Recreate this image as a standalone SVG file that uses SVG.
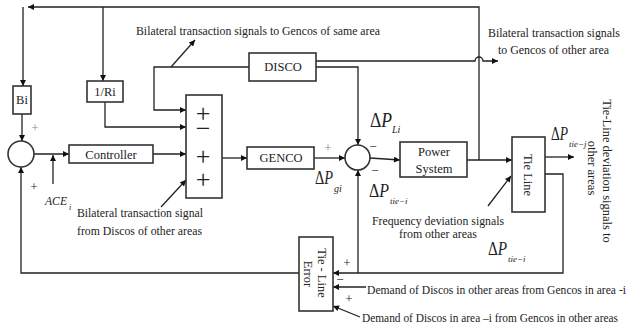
<svg xmlns="http://www.w3.org/2000/svg" width="633" height="331" viewBox="0 0 633 331" font-family="'Liberation Serif', 'Times New Roman', 'DejaVu Serif', serif">
<defs>
<style>
.box{fill:#fff;stroke:#333;stroke-width:1.6}
.ln{fill:none;stroke:#222;stroke-width:1.3}
.t{font-family:'Liberation Serif','Times New Roman','DejaVu Serif',serif;font-size:12.5px;fill:#222}
.it{font-family:'Liberation Serif','Times New Roman','DejaVu Serif',serif;font-style:italic;fill:#222}
.sg{font-family:'Liberation Serif','Times New Roman','DejaVu Serif',serif;font-size:26px;fill:#222;text-anchor:middle}
.sm{font-family:'Liberation Serif','Times New Roman','DejaVu Serif',serif;font-size:13px;fill:#222;text-anchor:middle}
.lt{fill:#7a8ca0}
.mid{text-anchor:middle}
</style>
<marker id="ah" viewBox="0 0 10 10" refX="10" refY="5" markerWidth="8" markerHeight="6" orient="auto" markerUnits="userSpaceOnUse"><path d="M0,0 L10,5 L0,10 z" fill="#111"/></marker>
</defs>
<rect width="633" height="331" fill="#fff"/>

<g id="connectors">
<path class="ln" d="M479 160 V7 H28" marker-end="url(#ah)"/>
<path class="ln" d="M23 7 V86" marker-end="url(#ah)"/>
<path class="ln" d="M103 7 V81" marker-end="url(#ah)"/>
<path class="ln" d="M22 114 V141" marker-end="url(#ah)"/>
<path class="ln" d="M105 102 V127 H186" marker-end="url(#ah)"/>
<path class="ln" d="M249 67 H154 V110 H186" marker-end="url(#ah)"/>
<path class="ln" d="M171 67 L195 40" marker-end="url(#ah)"/>
<path class="ln" d="M316 61 H475 A4 4 0 0 1 483 61 H498" marker-end="url(#ah)"/>
<path class="ln" d="M316 67 H358 V145" marker-end="url(#ah)"/>
<path class="ln" d="M34 154 H69" marker-end="url(#ah)"/>
<path class="ln" d="M53 184 V155" marker-end="url(#ah)"/>
<path class="ln" d="M153 154 H186" marker-end="url(#ah)"/>
<path class="ln" d="M161 207 L186 180" marker-end="url(#ah)"/>
<path class="ln" d="M222 158 H247" marker-end="url(#ah)"/>
<path class="ln" d="M314 158 H345" marker-end="url(#ah)"/>
<path class="ln" d="M370 158 L400 160" marker-end="url(#ah)"/>
<path class="ln" d="M467 160 H512" marker-end="url(#ah)"/>
<path class="ln" d="M545 157 H574" marker-end="url(#ah)"/>
<path class="ln" d="M545 174 H563 V273 H333" marker-end="url(#ah)"/>
<path class="ln" d="M358 273 V170" marker-end="url(#ah)"/>
<path class="ln" d="M299 273 H21 V167" marker-end="url(#ah)"/>
<path class="ln" d="M488 206 L511 176" marker-end="url(#ah)"/>
<path class="ln" d="M366 287 H333" marker-end="url(#ah)"/>
<path class="ln" d="M360 317 L333 306" marker-end="url(#ah)"/>
</g>

<g id="node-bi">
<rect class="box" x="13" y="86" width="18" height="28"/>
<text class="t mid" x="22" y="104" font-size="13">Bi</text>
</g>
<g id="node-sum1">
<circle class="box" cx="21" cy="154" r="13"/>
</g>
<g id="node-ri">
<rect class="box" x="87" y="81" width="36" height="21"/>
<text class="t mid" x="105" y="96" font-size="13">1/Ri</text>
</g>
<g id="node-controller">
<rect class="box" x="69" y="145" width="84" height="18"/>
<text class="t mid" x="111" y="159" font-size="13">Controller</text>
</g>
<g id="node-sumbox">
<rect class="box" x="186" y="95" width="36" height="103"/>
<text class="sg" x="203" y="122">+</text>
<text class="sg" x="203" y="137">−</text>
<text class="sg" x="203" y="165">+</text>
<text class="sg" x="203" y="188">+</text>
</g>
<g id="node-disco">
<rect class="box" x="249" y="53" width="67" height="28"/>
<text class="t mid" x="283" y="71" font-size="13">DISCO</text>
</g>
<g id="node-genco">
<rect class="box" x="247" y="147" width="67" height="22"/>
<text class="t mid" x="281" y="162" font-size="13">GENCO</text>
</g>
<g id="node-sum2">
<circle class="box" cx="357.5" cy="157.5" r="12.5"/>
</g>
<g id="node-power">
<rect class="box" x="400" y="142" width="67" height="35"/>
<text class="t mid" x="434" y="156" font-size="13">Power</text>
<text class="t mid" x="434" y="173" font-size="13">System</text>
</g>
<g id="node-tieline">
<rect class="box" x="512" y="137" width="33" height="75"/>
<text class="t mid" transform="translate(524,175) rotate(90)" font-size="13">Tie Line</text>
</g>
<g id="node-tieerror">
<rect class="box" x="299" y="237" width="34" height="74"/>
<text class="t mid" transform="translate(318,273) rotate(90)" font-size="13">Tie - Line</text>
<text class="t mid" transform="translate(304,274) rotate(90)" font-size="13">Error</text>
</g>

<g id="labels">
<text class="t" x="136" y="35" textLength="244" lengthAdjust="spacingAndGlyphs">Bilateral transaction signals to Gencos of same area</text>
<text class="t" x="488" y="37" textLength="132" lengthAdjust="spacingAndGlyphs">Bilateral transaction signals</text>
<text class="t" x="498" y="54" textLength="111" lengthAdjust="spacingAndGlyphs">to Gencos of other area</text>
<text class="t" x="77" y="217" textLength="126" lengthAdjust="spacingAndGlyphs">Bilateral transaction signal</text>
<text class="t" x="77" y="235" textLength="125" lengthAdjust="spacingAndGlyphs">from Discos of other areas</text>
<text class="t" x="372" y="225" textLength="132" lengthAdjust="spacingAndGlyphs">Frequency deviation signals</text>
<text class="t" x="399" y="238" textLength="78" lengthAdjust="spacingAndGlyphs">from other areas</text>
<text class="t" x="367" y="294" font-size="12" textLength="259" lengthAdjust="spacingAndGlyphs">Demand of Discos in other areas from Gencos in area -i</text>
<text class="t" x="362" y="322" font-size="12" textLength="256" lengthAdjust="spacingAndGlyphs">Demand of Discos in area –i from Gencos in other areas</text>
<text class="t mid" transform="translate(603,171) rotate(90)" font-size="13">Tie-Line deviation signals to</text>
<text class="t mid" transform="translate(588,168) rotate(90)" font-size="13">other areas</text>

<text class="it" x="45" y="205" font-size="13" textLength="22" lengthAdjust="spacingAndGlyphs">ACE</text>
<text class="it" x="69" y="210" font-size="8">i</text>

<text class="it" x="370" y="127" font-size="20" textLength="22" lengthAdjust="spacingAndGlyphs"><tspan font-style="normal">Δ</tspan>P</text>
<text class="it" x="392" y="133" font-size="10">Li</text>
<text class="it" x="315" y="184" font-size="18" textLength="18" lengthAdjust="spacingAndGlyphs"><tspan font-style="normal">Δ</tspan>P</text>
<text class="it" x="334" y="192" font-size="10">gi</text>
<text class="it" x="369" y="197" font-size="18" textLength="20" lengthAdjust="spacingAndGlyphs"><tspan font-style="normal">Δ</tspan>P</text>
<text class="it" x="390" y="204" font-size="9">tie−i</text>
<text class="it" x="551" y="140" font-size="18" textLength="17" lengthAdjust="spacingAndGlyphs"><tspan font-style="normal">Δ</tspan>P</text>
<text class="it" x="569" y="147" font-size="9">tie−j</text>
<text class="it" x="488" y="255" font-size="18" textLength="19" lengthAdjust="spacingAndGlyphs"><tspan font-style="normal">Δ</tspan>P</text>
<text class="it" x="508" y="262" font-size="9">tie−i</text>

<text class="sm lt" x="35" y="132">+</text>
<text class="sm" x="34" y="191">+</text>
<text class="sm lt" x="328" y="152">+</text>
<text class="sm" x="373" y="151">−</text>
<text class="sm" x="375" y="175">−</text>
<text class="sm" x="347" y="267">+</text>
<text class="sm" x="340" y="284">−</text>
<text class="sm" x="349" y="303">+</text>
</g>
</svg>
